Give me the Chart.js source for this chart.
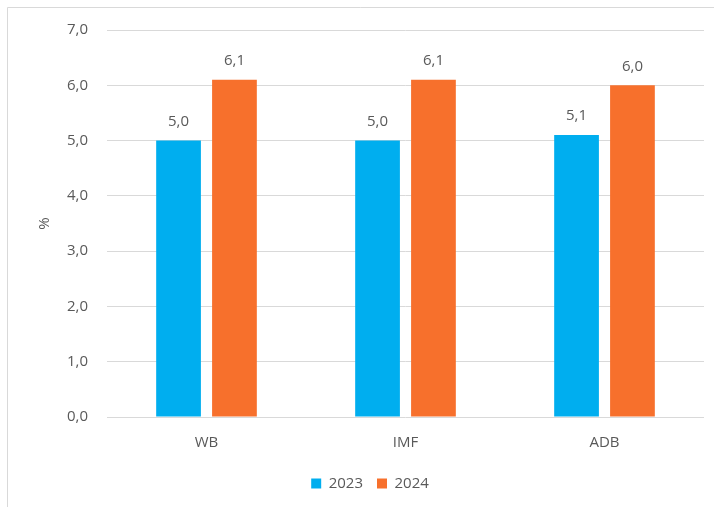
<!DOCTYPE html>
<html>
<head>
<meta charset="utf-8">
<script src="https://cdn.jsdelivr.net/npm/chart.js@4"></script>
<style>
html,body{margin:0;padding:0;background:#fff;}
#wrap{width:714px;height:507px;position:relative;}
</style>
</head>
<body>
<div id="wrap"><canvas id="c" width="714" height="507"></canvas></div>
<script>
const categories = ["WB", "IMF", "ADB"];
const seriesNames = ["2023", "2024"];
const values2023 = [5.0, 5.0, 5.1];
const values2024 = [6.1, 6.1, 6.0];
const yTickLabels = ["0,0", "1,0", "2,0", "3,0", "4,0", "5,0", "6,0", "7,0"];
const yTitle = "%";

const textColor = "#595959";
const fontFam = "'Open Sans', 'Noto Sans', sans-serif";
const fmt = v => v.toFixed(1).replace('.', ',');

const borderPlugin = {
  id: 'frame',
  beforeDraw(chart) {
    const ctx = chart.ctx;
    ctx.save();
    ctx.fillStyle = '#fff';
    ctx.fillRect(0, 0, chart.width, chart.height);
    ctx.strokeStyle = '#d9d9d9';
    ctx.lineWidth = 1;
    ctx.beginPath();
    ctx.moveTo(7.5, chart.height);
    ctx.lineTo(7.5, 7.5);
    ctx.lineTo(chart.width, 7.5);
    ctx.stroke();
    ctx.restore();
  }
};

const labelPlugin = {
  id: 'valueLabels',
  afterDatasetsDraw(chart) {
    const ctx = chart.ctx;
    ctx.save();
    ctx.font = "15px " + fontFam;
    ctx.fillStyle = textColor;
    ctx.textAlign = 'center';
    ctx.textBaseline = 'middle';
    chart.data.datasets.forEach((ds, i) => {
      const meta = chart.getDatasetMeta(i);
      meta.data.forEach((bar, j) => {
        ctx.fillText(fmt(ds.data[j]), bar.x, bar.y - 19);
      });
    });
    ctx.restore();
  }
};

new Chart(document.getElementById('c'), {
  type: 'bar',
  data: {
    labels: categories,
    datasets: [
      { label: seriesNames[0], data: values2023, backgroundColor: '#00AEEF', categoryPercentage: 0.562, barPercentage: 0.80 },
      { label: seriesNames[1], data: values2024, backgroundColor: '#F7702C', categoryPercentage: 0.562, barPercentage: 0.80 }
    ]
  },
  options: {
    responsive: false,
    animation: false,
    devicePixelRatio: 1,
    layout: { padding: { left: 36, right: 10, top: 30, bottom: 6 } },
    plugins: {
      legend: {
        position: 'bottom',
        labels: {
          boxWidth: 10,
          boxHeight: 10,
          padding: 14,
          color: textColor,
          font: { size: 15, family: fontFam }
        }
      },
      tooltip: { enabled: false }
    },
    scales: {
      x: {
        grid: { display: false, drawTicks: false },
        border: { display: false },
        ticks: { color: textColor, font: { size: 15, family: fontFam }, padding: 17 },
        afterFit(scale) { scale.height = 45; }
      },
      y: {
        min: 0,
        max: 7,
        ticks: {
          stepSize: 1,
          color: textColor,
          font: { size: 15, family: fontFam },
          padding: 19,
          callback: (v, i) => yTickLabels[i]
        },
        grid: { color: '#d9d9d9', drawTicks: false, lineWidth: 1 },
        border: { display: false },
        title: {
          display: true,
          text: yTitle,
          color: textColor,
          font: { size: 15, family: fontFam },
          padding: { top: 0, bottom: 0 }
        },
        afterFit(scale) { scale.width = 71; }
      }
    }
  },
  plugins: [borderPlugin, labelPlugin]
});
</script>
</body>
</html>
